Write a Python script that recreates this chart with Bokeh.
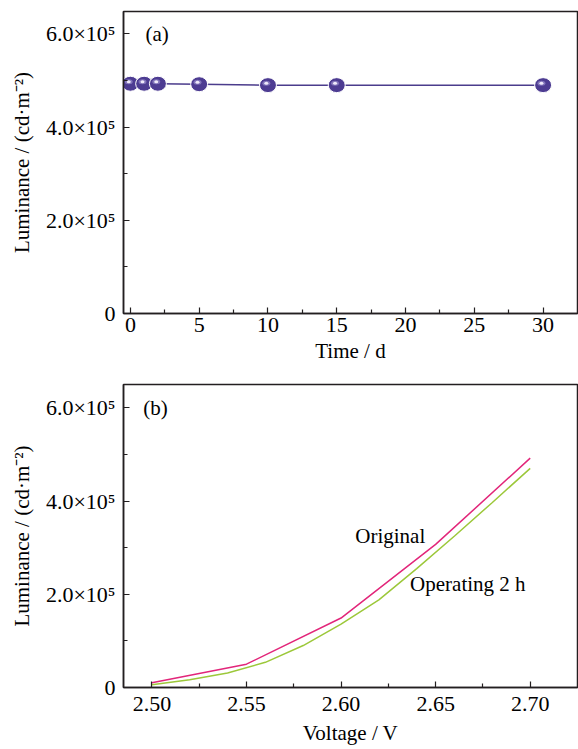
from bokeh.plotting import figure
from bokeh.layouts import column
from bokeh.models import FixedTicker, Range1d, Label, PrintfTickFormatter
from bokeh.embed import file_html
from bokeh.resources import INLINE

FONT = "Liberation Serif"

# ---- data (a) ----
time_d = [0, 1, 2, 5, 10, 15, 30]
lum_time = [4.93e5, 4.93e5, 4.93e5, 4.92e5, 4.90e5, 4.90e5, 4.90e5]

# ---- data (b) ----
volt_orig = [2.50, 2.55, 2.60, 2.65, 2.70]
lum_orig = [1.0e4, 5.0e4, 1.49e5, 3.07e5, 4.92e5]
volt_op = [2.50, 2.52, 2.54, 2.56, 2.58, 2.60, 2.62, 2.64, 2.66, 2.68, 2.70]
lum_op = [6e3, 1.65e4, 3.1e4, 5.4e4, 9.0e4, 1.36e5, 1.88e5, 2.55e5, 3.25e5, 3.97e5, 4.70e5]

y_ticks = [0, 200000, 400000, 600000]
y_minor = [100000, 300000, 500000]
y_tick_labels = ["0", "2.0×10⁵", "4.0×10⁵", "6.0×10⁵"]
xb_ticks = [2.50, 2.55, 2.60, 2.65, 2.70]
xb_minor = [2.525, 2.575, 2.625, 2.675]
xa_ticks = [0, 5, 10, 15, 20, 25, 30]
xa_minor = [2.5, 7.5, 12.5, 17.5, 22.5, 27.5]

Y_LABEL = "Luminance / (cd·m⁻²)"
FRAME = "#231f20"


def style(p):
    p.outline_line_color = FRAME
    p.outline_line_width = 1.5
    p.xgrid.visible = False
    p.ygrid.visible = False
    p.background_fill_color = "white"
    p.border_fill_color = "white"
    for ax in (p.xaxis[0], p.yaxis[0]):
        ax.axis_line_color = FRAME
        ax.axis_line_width = 1.5
        ax.major_tick_in = 6
        ax.major_tick_out = 0
        ax.minor_tick_in = 4
        ax.minor_tick_out = 0
        ax.major_tick_line_color = FRAME
        ax.minor_tick_line_color = FRAME
        ax.major_tick_line_width = 1.2
        ax.minor_tick_line_width = 1.2
        ax.major_label_text_font = FONT
        ax.major_label_text_font_size = "22px"
        ax.major_label_text_color = "black"
        ax.axis_label_text_font = FONT
        ax.axis_label_text_font_size = "21px"
        ax.axis_label_text_font_style = "normal"
        ax.axis_label_text_color = "black"
    p.yaxis[0].ticker = FixedTicker(ticks=y_ticks, minor_ticks=y_minor)
    p.yaxis[0].major_label_overrides = {t: s for t, s in zip(y_ticks, y_tick_labels)}
    p.yaxis[0].axis_label = Y_LABEL
    p.yaxis[0].major_label_standoff = 8
    p.yaxis[0].axis_label_standoff = 9


# ---- panel (a) ----
pa = figure(width=578, height=370, output_backend="svg", toolbar_location=None,
            x_range=Range1d(-0.5, 32.5), y_range=Range1d(0, 6.48e5),
            min_border_left=123, min_border_right=1, min_border_top=11, min_border_bottom=57)
style(pa)
pa.xaxis[0].ticker = FixedTicker(ticks=xa_ticks, minor_ticks=xa_minor)
pa.xaxis[0].axis_label = "Time / d"
pa.xaxis[0].major_label_standoff = 4
pa.xaxis[0].axis_label_standoff = 4

pa.line(time_d, lum_time, line_color="#4b3c8c", line_width=1.5)
pa.ellipse(x=time_d, y=lum_time, width=17, height=15, width_units="screen", height_units="screen",
           fill_color="#4d3c92", line_color="white", line_width=1)
hx = [t - 0.12 for t in time_d]
hy = [v + 4.0e3 for v in lum_time]
pa.ellipse(x=hx, y=hy, width=8, height=5, width_units="screen", height_units="screen",
           fill_color="#8f82c4", line_color=None, fill_alpha=0.8)
pa.ellipse(x=hx, y=hy, width=4, height=3, width_units="screen", height_units="screen",
           fill_color="#efeafa", line_color=None)
pa.add_layout(Label(x=1.1, y=6.0e5, text="(a)", text_font=FONT, text_font_size="21px",
                    text_baseline="middle", text_color="black"))

# ---- panel (b) ----
pb = figure(width=578, height=379, output_backend="svg", toolbar_location=None,
            x_range=Range1d(2.485, 2.725), y_range=Range1d(0, 6.5e5),
            min_border_left=123, min_border_right=1, min_border_top=14, min_border_bottom=62)
style(pb)
pb.xaxis[0].ticker = FixedTicker(ticks=xb_ticks, minor_ticks=xb_minor)
pb.xaxis[0].formatter = PrintfTickFormatter(format="%.2f")
pb.xaxis[0].axis_label = "Voltage / V"
pb.xaxis[0].major_label_standoff = 9
pb.xaxis[0].axis_label_standoff = 7

pb.line(volt_orig, lum_orig, line_color="#e2267a", line_width=1.5)
pb.line(volt_op, lum_op, line_color="#9cc83a", line_width=1.5)
pb.add_layout(Label(x=2.4954, y=6.0e5, text="(b)", text_font=FONT, text_font_size="21px",
                    text_baseline="middle", text_color="black"))
pb.add_layout(Label(x=2.6075, y=3.25e5, text="Original", text_font=FONT, text_font_size="21px",
                    text_baseline="middle", text_color="black"))
pb.add_layout(Label(x=2.6365, y=2.22e5, text="Operating 2 h", text_font=FONT, text_font_size="21px",
                    text_baseline="middle", text_color="black"))

layout = column(pa, pb, spacing=0)
open("out.html", "w").write(file_html(layout, INLINE))
